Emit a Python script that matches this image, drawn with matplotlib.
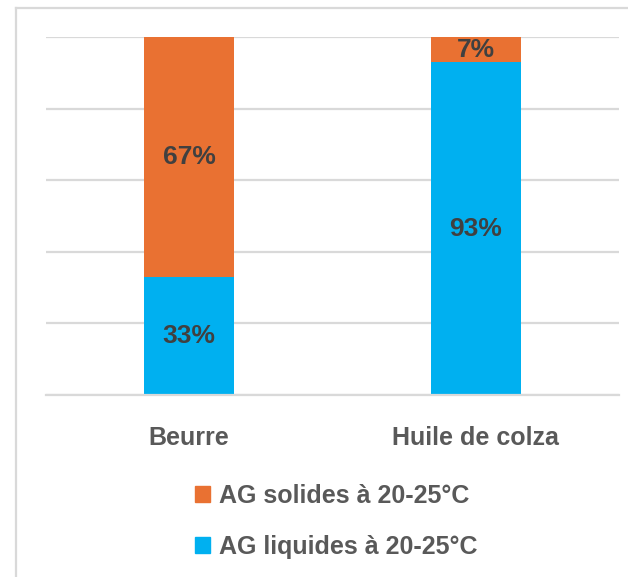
import matplotlib.pyplot as plt
from matplotlib.lines import Line2D
from matplotlib.patches import Patch

categories = ["Beurre", "Huile de colza"]
liquides = [33, 93]
solides = [67, 7]
series_labels = ["AG solides à 20-25°C", "AG liquides à 20-25°C"]

ORANGE = "#E97132"
BLUE = "#00B0F0"
GRID = "#D9D9D9"

plt.rcParams["font.family"] = ["Liberation Sans", "DejaVu Sans"]
plt.rcParams["font.weight"] = "bold"

fig = plt.figure(figsize=(6.28, 5.77), dpi=100)
ax = fig.add_axes([0.0732, 0.3154, 0.9125, 0.6205])

x = range(len(categories))
width = 0.314
ax.bar(x, liquides, width, color=BLUE, zorder=2)
ax.bar(x, solides, width, bottom=liquides, color=ORANGE, zorder=2)

for i in x:
    ax.text(i, liquides[i] / 2, f"{liquides[i]}%", ha="center", va="center",
            fontsize=19, fontweight="bold", color="#404040", zorder=3)
    ax.text(i, liquides[i] + solides[i] / 2, f"{solides[i]}%", ha="center", va="center",
            fontsize=19, fontweight="bold", color="#404040", zorder=3)

ax.set_xlim(-0.5, 1.5)
ax.set_ylim(0, 100)
ax.set_yticks(range(0, 101, 20))
ax.yaxis.grid(True, color=GRID, linewidth=1.6)
ax.set_axisbelow(True)
ax.tick_params(left=False, labelleft=False, bottom=False)
ax.set_xticks(list(x))
ax.set_xticklabels(categories, fontsize=18, fontweight="bold", color="#595959")
ax.tick_params(axis="x", pad=19)
for side in ["left", "right", "top"]:
    ax.spines[side].set_visible(False)
ax.spines["bottom"].set_color(GRID)
ax.spines["bottom"].set_linewidth(1.6)

handles = [Patch(color=ORANGE), Patch(color=BLUE)]
fig.legend(handles, series_labels, loc="upper left", bbox_to_anchor=(0.311, 0.161),
           frameon=False, fontsize=18, handlelength=0.6, handleheight=0.6,
           handletextpad=0.35, labelspacing=1.08, borderaxespad=0, borderpad=0,
           labelcolor="#595959")

# light frame of the cropped chart area (left and top edges only)
fig.add_artist(Line2D([16 / 628, 16 / 628], [0, 1 - 8 / 577], color=GRID, linewidth=1.6))
fig.add_artist(Line2D([16 / 628, 1], [1 - 8 / 577, 1 - 8 / 577], color=GRID, linewidth=1.6))

fig.savefig("out.png", dpi=100)
